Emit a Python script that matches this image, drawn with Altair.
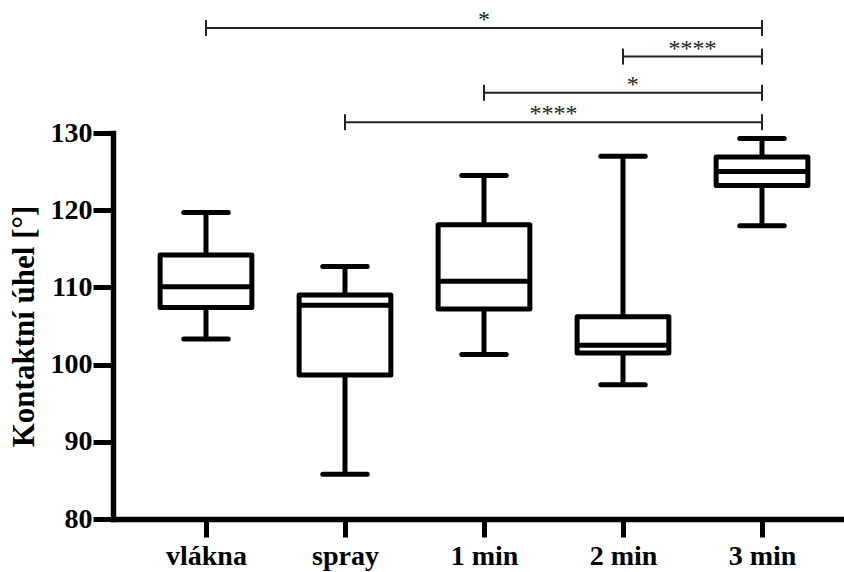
import json
import altair as alt
import pandas as pd

# ---- data ----
categories = ["vlákna", "spray", "1 min", "2 min", "3 min"]
mins = [103.3, 85.8, 101.3, 97.4, 118.0]
q1s = [107.4, 98.65, 107.2, 101.5, 123.2]
medians = [110.1, 107.7, 110.8, 102.5, 125.0]
q3s = [114.2, 109.0, 118.1, 106.2, 126.9]
maxs = [119.7, 112.7, 124.5, 127.0, 129.3]

# significance brackets (category numbers 1..5, level in y units)
br_start = [1, 4, 3, 2]
br_end = [5, 5, 5, 5]
br_level = [143.6, 139.9, 135.2, 131.4]
br_label = ["*", "****", "*", "****"]
br_label_pos = [3.0, 4.5, 4.07, 3.5]

FONT = "Liberation Serif"
HALF = 0.33
CAP = 0.16

box_df = pd.DataFrame({
    "pos": list(range(1, len(categories) + 1)),
    "cat": categories,
    "mn": mins, "q1": q1s, "med": medians, "q3": q3s, "mx": maxs,
})
br_df = pd.DataFrame({
    "start": br_start, "end": br_end, "level": br_level,
    "label": br_label, "lpos": br_label_pos,
})

xs = alt.Scale(domain=[0.331, 5.59], nice=False, zero=False)
ys = alt.Scale(domain=[80, 130], nice=False, zero=False)

label_expr = json.dumps(categories) + "[datum.value - 1]"

x_axis = alt.Axis(
    values=[1, 2, 3, 4, 5], labelExpr=label_expr, title=None, grid=False,
    domainColor="black", domainWidth=5.5, domainCap="square",
    tickColor="black", tickWidth=5, tickSize=18,
    labelFont=FONT, labelFontSize=28, labelFontWeight="bold", labelColor="black",
    labelPadding=5,
)
y_axis = alt.Axis(
    values=[80, 90, 100, 110, 120, 130], title="Kontaktní úhel [°]", grid=False,
    domainColor="black", domainWidth=5.5, domainCap="square",
    tickColor="black", tickWidth=5, tickSize=20,
    labelFont=FONT, labelFontSize=28, labelFontWeight="bold", labelColor="black",
    labelPadding=1,
    titleFont=FONT, titleFontSize=31, titleFontWeight="bold", titleColor="black",
    titlePadding=10,
)


def X(f):
    return alt.X(f, scale=xs, axis=x_axis)


def Y(f):
    return alt.Y(f, scale=ys, axis=y_axis)


base = alt.Chart(box_df).transform_calculate(
    lo=f"datum.pos - {HALF}", hi=f"datum.pos + {HALF}",
    clo=f"datum.pos - {CAP}", chi=f"datum.pos + {CAP}",
)

whisk_hi = base.mark_rule(color="black", strokeWidth=5).encode(
    x=X("pos:Q"), y=Y("q3:Q"), y2="mx:Q",
)
whisk_lo = base.mark_rule(color="black", strokeWidth=5).encode(
    x=X("pos:Q"), y=Y("mn:Q"), y2="q1:Q",
)
box = base.mark_rect(fill="white", stroke="black", strokeWidth=5, strokeJoin="round").encode(
    x=X("lo:Q"), x2="hi:Q", y=Y("q1:Q"), y2="q3:Q",
)
median = base.mark_rule(color="black", strokeWidth=5).encode(
    x=X("lo:Q"), x2="hi:Q", y=Y("med:Q"),
)
cap_hi = base.mark_rule(color="black", strokeWidth=5, strokeCap="round").encode(
    x=X("clo:Q"), x2="chi:Q", y=Y("mx:Q"),
)
cap_lo = base.mark_rule(color="black", strokeWidth=5, strokeCap="round").encode(
    x=X("clo:Q"), x2="chi:Q", y=Y("mn:Q"),
)

bbase = alt.Chart(br_df)
br_line = bbase.mark_rule(color="#222", strokeWidth=2).encode(
    x=X("start:Q"), x2="end:Q", y=Y("level:Q"),
)
br_ticks = bbase.transform_fold(["start", "end"], as_=["side", "xp"]).mark_rule(
    color="#222", strokeWidth=2, yOffset=-8, y2Offset=8
).encode(
    x=X("xp:Q"), y=Y("level:Q"), y2="level:Q",
)
br_text = bbase.mark_text(
    font=FONT, fontSize=24, color="#222", baseline="alphabetic", dy=-1
).encode(
    x=X("lpos:Q"), y=Y("level:Q"), text="label:N",
)

chart = alt.layer(
    whisk_hi, whisk_lo, box, median, cap_hi, cap_lo, br_line, br_ticks, br_text
).properties(
    width=731, height=386, autosize="none",
    padding={"left": 113, "top": 133, "right": 0, "bottom": 53},
    background="white",
).configure_view(stroke=None)

chart.save("out.html", embed_options={"renderer": "svg", "actions": False})
